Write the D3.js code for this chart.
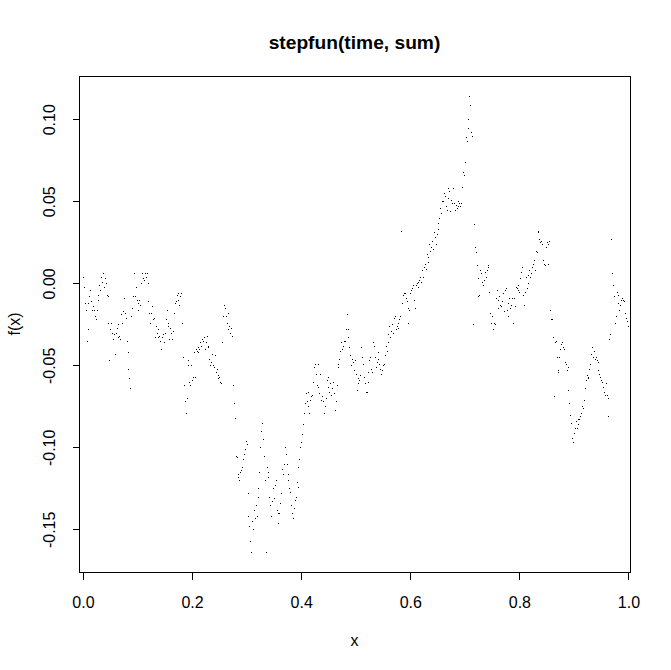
<!DOCTYPE html>
<html><head><meta charset="utf-8">
<script src="https://cdn.jsdelivr.net/npm/d3@7"></script>
<style>body{margin:0;background:#fff} text{font-family:"Liberation Sans",Arial,sans-serif;fill:#000}</style>
</head><body><svg id="c" width="671" height="670"></svg>
<script>
// step values of the cumulative sum (left to right, six per 0.01 of x)
const sum = [
 0.004,-0.002,-0.012,-0.016,-0.035,-0.028,  -0.012,-0.008,-0.004,-0.011,-0.016,-0.014,  -0.016,-0.020,-0.022,-0.016,-0.010,-0.007,
 -0.001,-0.004,0.004,0.001,0.006,-0.002,  0.003,0.000,-0.007,-0.008,-0.024,-0.047,  -0.028,-0.024,-0.030,-0.034,-0.031,-0.043,
 -0.030,-0.027,-0.033,-0.025,-0.032,-0.034,  -0.019,-0.024,-0.017,-0.009,-0.018,-0.021,  -0.035,-0.042,-0.052,-0.058,-0.064,-0.020,
 -0.015,-0.008,0.006,-0.008,-0.002,-0.010,  -0.012,-0.016,-0.010,-0.013,0.000,0.006,  0.003,0.002,0.006,0.004,0.006,0.000,
 -0.011,-0.018,-0.024,-0.018,-0.014,-0.022,  -0.021,-0.033,-0.026,-0.030,-0.033,-0.028,  -0.032,-0.035,-0.040,-0.033,-0.031,-0.036,
 -0.030,-0.022,-0.016,-0.024,-0.026,-0.034,  -0.027,-0.030,-0.034,-0.029,-0.018,-0.012,  -0.011,-0.007,-0.010,-0.006,-0.013,-0.008,
 -0.006,-0.024,-0.045,-0.062,-0.072,-0.079,  -0.070,-0.047,-0.050,-0.060,-0.062,-0.050,  -0.059,-0.057,-0.042,-0.057,-0.040,-0.041,
 -0.039,-0.042,-0.040,-0.036,-0.038,-0.034,  -0.035,-0.033,-0.040,-0.036,-0.032,-0.039,  -0.038,-0.046,-0.050,-0.048,-0.043,-0.050,
 -0.051,-0.044,-0.054,-0.052,-0.056,-0.058,  -0.057,-0.060,-0.061,-0.036,-0.020,-0.013,  -0.015,-0.020,-0.024,-0.018,-0.028,-0.026,
 -0.030,-0.027,-0.032,-0.062,-0.073,-0.082,  -0.105,-0.106,-0.118,-0.116,-0.120,-0.115,  -0.114,-0.112,-0.107,-0.104,-0.101,-0.096,
 -0.098,-0.128,-0.142,-0.148,-0.157,-0.164,  -0.145,-0.150,-0.138,-0.143,-0.135,-0.142,  -0.130,-0.125,-0.115,-0.100,-0.090,-0.085,
 -0.095,-0.105,-0.120,-0.164,-0.112,-0.115,  -0.118,-0.130,-0.135,-0.142,-0.133,-0.125,  -0.131,-0.123,-0.120,-0.138,-0.146,-0.140,
 -0.140,-0.134,-0.128,-0.113,-0.116,-0.110,  -0.100,-0.104,-0.110,-0.116,-0.120,-0.125,  -0.127,-0.135,-0.140,-0.143,-0.137,-0.132,
 -0.130,-0.121,-0.124,-0.112,-0.107,-0.100,  -0.097,-0.092,-0.086,-0.079,-0.073,-0.067,  -0.072,-0.066,-0.075,-0.079,-0.071,-0.069,
 -0.068,-0.060,-0.051,-0.049,-0.055,-0.062,  -0.049,-0.063,-0.067,-0.055,-0.071,-0.069,  -0.072,-0.079,-0.075,-0.070,-0.059,-0.063,
 -0.057,-0.066,-0.061,-0.068,-0.064,-0.060,  -0.067,-0.077,-0.072,-0.062,-0.051,-0.049,  -0.046,-0.041,-0.036,-0.040,-0.038,-0.035,
 -0.035,-0.028,-0.019,-0.028,-0.033,-0.039,  -0.044,-0.050,-0.046,-0.048,-0.053,-0.047,  -0.055,-0.065,-0.058,-0.061,-0.059,-0.056,
 -0.039,-0.045,-0.049,-0.057,-0.061,-0.066,  -0.066,-0.060,-0.054,-0.047,-0.045,-0.052,  -0.054,-0.036,-0.038,-0.045,-0.051,-0.048,
 -0.042,-0.046,-0.049,-0.052,-0.055,-0.053,  -0.050,-0.049,-0.044,-0.038,-0.041,-0.036,  -0.031,-0.026,-0.033,-0.029,-0.025,-0.030,
 -0.021,-0.020,-0.028,-0.026,-0.027,-0.024,  -0.022,-0.020,0.032,-0.012,-0.007,-0.006,  -0.006,-0.009,-0.011,-0.015,-0.024,-0.016,
 -0.006,-0.004,-0.003,-0.001,-0.010,-0.015,  -0.001,0.000,-0.002,0.001,0.002,0.004,  0.001,0.008,0.004,0.010,0.012,0.009,
 0.018,0.013,0.016,0.024,0.020,0.022,  0.026,0.021,0.031,0.028,0.024,0.030,  0.033,0.037,0.040,0.046,0.043,0.050,
 0.050,0.055,0.053,0.047,0.045,0.052,  0.058,0.056,0.044,0.051,0.049,0.058,  0.049,0.045,0.048,0.046,0.050,0.047,
 0.049,0.047,0.049,0.059,0.068,0.066,  0.074,0.089,0.087,0.095,0.100,0.114,  0.109,0.092,0.090,-0.025,0.036,0.022,
 0.019,0.011,0.003,-0.008,-0.007,0.008,  0.006,0.001,-0.001,0.002,0.007,0.004,  0.008,0.010,0.011,-0.005,-0.018,-0.024,
 -0.020,-0.028,-0.024,-0.025,-0.009,-0.004,  -0.010,-0.015,-0.008,-0.013,-0.014,-0.011,  -0.006,-0.017,-0.004,-0.003,-0.016,-0.012,
 -0.020,-0.009,-0.015,-0.013,-0.009,-0.024,  -0.009,-0.014,-0.002,-0.003,-0.001,-0.004,  -0.005,0.003,0.007,0.010,-0.007,-0.013,
 -0.005,0.004,-0.003,0.000,0.005,0.008,  0.004,0.006,0.010,0.012,0.014,0.008,  0.020,0.019,0.032,0.031,0.027,0.025,
 0.026,0.024,0.014,0.012,0.011,0.022,  0.025,0.024,0.012,0.026,-0.016,-0.022,  -0.022,-0.033,-0.069,-0.036,-0.035,-0.045,
 -0.054,-0.053,-0.045,-0.040,-0.037,-0.036,  -0.039,-0.040,-0.048,-0.049,-0.053,-0.051,  -0.065,-0.073,-0.080,-0.085,-0.094,-0.097,
 -0.091,-0.088,-0.084,-0.088,-0.086,-0.083,  -0.083,-0.081,-0.079,-0.075,-0.076,-0.071,  -0.064,-0.059,-0.056,-0.058,-0.057,-0.052,
 -0.049,-0.043,-0.039,-0.045,-0.041,-0.046,  -0.045,-0.047,-0.048,-0.053,-0.055,-0.057,  -0.059,-0.060,-0.063,-0.066,-0.068,-0.061,
 -0.068,-0.081,-0.070,-0.034,-0.031,0.027,  0.006,-0.001,-0.008,-0.024,-0.020,-0.005,  -0.007,-0.012,-0.016,-0.013,-0.010,-0.009,
 -0.010,-0.011,-0.018,-0.021,-0.023,-0.026
];
// knot times: equally spaced steps across [0, 1]
const time = d3.range(sum.length + 1).map(i => i / sum.length);
const xTicks = [0, 0.2, 0.4, 0.6, 0.8, 1.0];
const yTicks = [-0.15, -0.10, -0.05, 0.00, 0.05, 0.10];
const titleText = "stepfun(time, sum)";
const xLabel = "x", yLabel = "f(x)";

const W = 671, H = 670;
const L = 79, R = 630, T = 76, B = 572;
const FONT = '"Liberation Sans",Arial,sans-serif';
const svg = d3.select("#c");
svg.append("rect").attr("width", W).attr("height", H).attr("fill", "#fff");

const x = d3.scaleLinear().domain([-0.0073, 1.0028]).range([L, R]);
const y = d3.scaleLinear().domain([-0.1760, 0.1264]).range([B, T]);

// steps (horizontal segments only, no verticals)
svg.append("g").selectAll("path").data(sum).join("path")
  .attr("d", (v, i) => {
    const yy = Math.round(y(v)) + 0.5;
    const x1 = Math.round(x(time[i])), x2 = Math.max(Math.round(x(time[i + 1])), x1 + 1);
    return `M${x1},${yy}H${x2}`;
  })
  .attr("stroke", "#000").attr("stroke-width", 1).attr("shape-rendering", "crispEdges").attr("fill", "none");

// frame
svg.append("rect").attr("x", L + 0.5).attr("y", T + 0.5).attr("width", R - L).attr("height", B - T)
  .attr("fill", "none").attr("stroke", "#000").attr("shape-rendering", "crispEdges");

// x axis
const gx = svg.append("g").attr("transform", `translate(0,${B + 0.5})`)
  .call(d3.axisBottom(x).tickValues(xTicks).tickSize(7).tickSizeOuter(0).tickFormat(d => d.toFixed(1)));
gx.select(".domain").attr("d", `M${Math.round(x(0))+0.5},0H${Math.round(x(1))+0.5}`).attr("shape-rendering", "crispEdges");
gx.selectAll(".tick line").attr("shape-rendering", "crispEdges");
gx.selectAll(".tick text").attr("y", 35).attr("dy", null).attr("font-size", 16).style("font-family", FONT);

// y axis
const gy = svg.append("g").attr("transform", `translate(${L + 0.5},0)`)
  .call(d3.axisLeft(y).tickValues(yTicks).tickSize(7).tickSizeOuter(0).tickFormat(d => d.toFixed(2)));
gy.select(".domain").attr("d", `M0,${Math.round(y(-0.15))+0.5}V${Math.round(y(0.10))+0.5}`).attr("shape-rendering", "crispEdges");
gy.selectAll(".tick line").attr("shape-rendering", "crispEdges");
gy.selectAll(".tick text").attr("transform", "rotate(-90)").attr("x", 0).attr("y", -25).attr("dy", null)
  .attr("text-anchor", "middle").attr("font-size", 16).style("font-family", FONT);

// titles
svg.append("text").attr("x", (L + R) / 2).attr("y", 49).attr("text-anchor", "middle")
  .attr("font-size", 19.2).attr("font-weight", "bold").text(titleText);
svg.append("text").attr("x", (L + R) / 2).attr("y", 646).attr("text-anchor", "middle")
  .attr("font-size", 16).text(xLabel);
svg.append("text").attr("transform", `translate(20,${(T + B) / 2}) rotate(-90)`).attr("text-anchor", "middle")
  .attr("font-size", 16).text(yLabel);
</script></body></html>
